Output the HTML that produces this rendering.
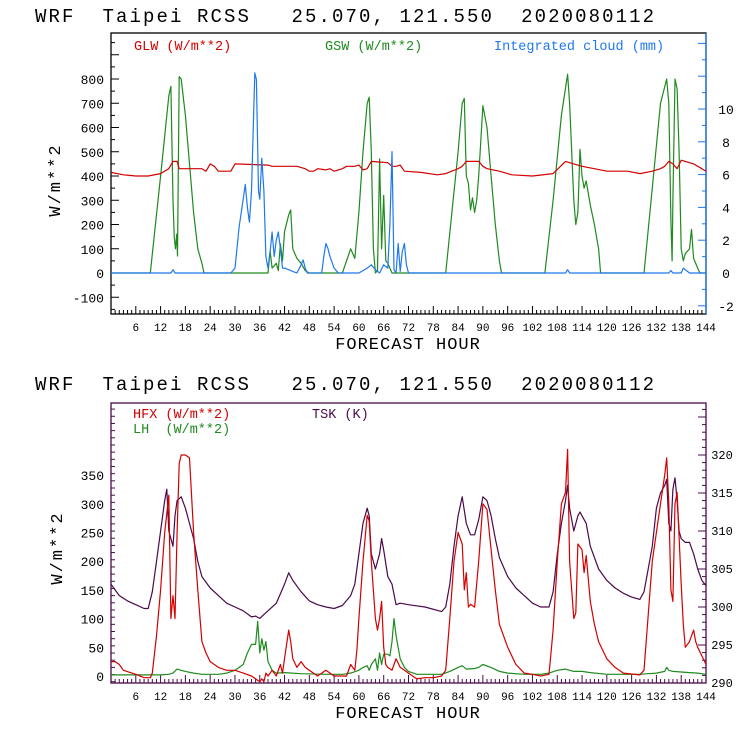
<!DOCTYPE html>
<html><head><meta charset="utf-8"><style>
html,body{margin:0;padding:0;background:#fff;}
svg{display:block;font-family:"Liberation Mono",monospace;}
</style></head><body>
<svg id="c" width="740" height="740" viewBox="0 0 740 740"></svg>
<script>
// ---- Top chart data ----
const hourTicks=[6,12,18,24,30,36,42,48,54,60,66,72,78,84,90,96,102,108,114,120,126,132,138,144];
const gswHours=[0,9.5,12,14,14.5,15,15.3,15.6,15.9,16.1,16.5,17,18,19,20,21,22,22.5,38,38.5,39,40,40.5,41,41.5,42,43,43.5,44,45,46,47,48,56,57,58,59,60,61,62,62.5,63,63.5,64,64.5,65,65.5,66,66.5,67,68,81,84,85,85.5,86,86.5,87,87.5,88,88.5,89,90,91,92,93,94,94.5,105,107,109,110.5,111,112,112.5,113,113.5,114,114.5,115,116,117,118,118.5,129,131,133,134.5,135,135.5,135.8,136,136.5,137,137.5,138,138.5,139,140,140.5,141,142,142.5,144];
const gswValues=[0,0,400,730,770,300,150,100,160,70,810,800,650,450,250,100,40,0,0,90,20,40,10,120,50,170,240,260,100,60,40,10,0,0,50,100,60,250,500,700,725,500,100,0,10,470,100,320,50,40,0,0,500,700,720,400,370,260,310,250,300,400,690,600,400,200,50,0,0,300,650,820,700,300,200,250,510,400,350,380,280,200,100,0,0,350,700,800,700,220,50,300,800,760,500,100,50,80,100,180,60,20,0,0];
const cloudHours=[0,14.5,15,15.5,29,30,31,32,32.5,33,33.5,34,34.8,35.2,35.7,36,36.5,37,37.5,38,38.5,39,39.5,40,40.5,41,41.5,42,43,44,45,46,46.5,47,47.5,51,51.5,52,52.5,53,54,55,60,62,63,64,65,66,67,67.5,68,68.5,69,69.5,70,70.5,71,71.5,72,110,110.5,111,135,135.5,136,138,138.5,139,140,144];
const cloudValues=[0,0,0.2,0,0,0.3,2.8,4.5,5.4,4.0,3.1,5.0,12.2,11.8,5,4.5,7.0,5,1.0,0.3,1.3,2.5,1.0,2.0,2.5,1.5,0.3,0.3,0.2,0.1,0,0.5,0.8,0.3,0,0,1.0,1.8,1.5,1.0,0.3,0,0,0.3,0.5,0.2,0,0.5,0.3,3,7.4,0.2,0,1.8,0.1,1.3,1.8,0.5,0,0,0.2,0,0,0.15,0,0,0.3,0.2,0,0];
const glwHours=[0,3,6,9,12,14,15,16,16.5,22,23,24,25,26,29,30,38,39,43,45,47,48,49,50,52,53,54,56,57,59,60,61,62,63,67,68,69,70,71,75,79,81,84,85,86,89,90,91,94,97,102,107,110,112,114,117,120,125,128,131,133,134,135,136,137,138,141,143,144];
const glwValues=[415,405,400,400,410,430,460,460,430,430,420,450,440,420,420,450,445,440,440,440,430,420,420,430,425,430,420,430,440,440,445,425,430,460,455,440,440,445,420,415,405,410,430,440,460,460,440,430,420,405,400,410,460,450,440,430,420,420,410,420,430,440,460,450,430,465,450,430,420];
// ---- Bottom chart data ----
const hfxHours=[0,1,2,3,6,8,9.5,10,11,12,13,14,14.5,15,15.5,16,16.5,17,18,19,20,21,22,23,24,26,28,30,32,34,35,36,36.5,37,37.5,38,39,40,41,41.5,42,43,43.5,44,45,46,47,48,50,52,53,54,57,58,59,59.5,60,61,62,62.5,63,64,64.5,65,65.5,66,66.5,67,68,68.5,69,70,72,74,76,78,80,81,82,83,84,85,85.5,86,86.5,87,88,89,90,91,92,93,94,96,98,100,102,104,106,107,108,109,110,110.5,111,112,112.5,113,114,114.5,115,116,117,118,120,122,124,128,129,131,133,134,134.5,135,135.5,136,136.5,137,138,138.5,139,140,141,141.5,142,143,144];
const hfxValues=[25,25,20,10,3,-3,-3,5,70,150,250,315,100,140,100,250,370,385,385,380,250,150,60,40,25,15,10,10,5,0,-5,-10,-5,-10,5,0,10,0,20,5,30,80,60,30,15,25,15,10,0,10,5,0,0,20,10,45,100,200,280,270,200,100,80,100,130,50,20,15,10,20,30,15,5,-5,-3,-3,0,10,100,200,250,230,150,180,120,125,120,200,300,290,220,150,90,50,20,5,3,0,3,80,200,300,320,395,200,100,110,230,220,180,210,130,90,60,30,15,5,2,10,200,300,350,380,300,150,130,300,320,160,90,50,60,80,60,50,35,20];
const lhHours=[0,12,14,15,16,17,18,20,22,26,28,30,32,33,34,35,35.5,36,36.5,37,37.5,38,39,40,42,46,52,56,58,60,61,62,62.5,63,64,64.5,65,65.5,66,67,67.5,68,68.5,69,70,71,72,74,80,82,84,85,86,88,89,90,92,94,96,100,104,106,108,110,111,112,114,116,120,128,130,132,134,134.5,135,136,138,140,142,144];
const lhValues=[2,2,3,5,12,10,8,5,3,3,5,10,20,40,55,55,95,40,65,45,60,25,10,5,6,4,3,3,5,10,15,18,10,20,30,10,40,20,38,38,35,60,100,70,30,15,8,3,3,8,15,18,12,13,15,20,15,8,5,3,3,5,10,12,10,8,8,6,3,3,4,5,8,15,10,8,7,6,5,3];
const tskHours=[0,2,4,6,8,9,10,11,12,13,13.5,14,14.5,15,15.5,16,17,18,19,20,21,22,24,26,28,30,32,34,35,36,37,38,40,42,43,44,46,48,50,52,54,56,58,59,60,61,62,62.5,63,64,65,65.5,66,67,68,69,70,72,76,80,81,82,83,84,85,86,87,88,89,90,91,92,93,94,96,98,100,102,104,106,107,108,109,110,110.5,111,112,113,113.5,114,115,116,118,120,122,124,126,128,129,130,131,132,133,134,134.5,135,135.5,136,136.5,137,137.5,138,139,140,141,142,143,144];
const tskValues=[303,301.5,300.8,300.3,299.8,299.8,302,306,310,314,315.5,310,309,308,312,314,314.5,313,311,309,306,304,302.5,301.5,300.5,300,299.5,298.7,298.8,298.5,299,299.5,300.5,303,304.5,303.5,302,300.8,300.3,300,299.8,300.2,301.5,303,307,311,313,312,307,305,307,309,307.5,304,303,300.3,300.5,300.3,300,299.4,300,303,308,312,314.5,311,309.5,309.5,311.5,314.5,314,312,309,306.5,304,302.5,301.5,300.5,300,300,302,307,311,314,316,313,310,312,312.5,312,311,308,305,303.5,302.5,301.8,301.3,301,302,305,308,313,315,316,316.8,311,310,315.5,317,314,310,309,308.5,308.5,307,305,303.5,302.8];

const svg=document.getElementById('c');
const NS='http://www.w3.org/2000/svg';
function mk(tag,attrs,parent,name,text){
  const e=document.createElementNS(NS,tag);
  for(const k in attrs)e.setAttribute(k,attrs[k]);
  
  
  if(text!==undefined)e.textContent=text;
  (parent||svg).appendChild(e);return e;
}
const X0=111,X1=706;
const xs=h=>X0+(X1-X0)*h/144;
const RED='#d40000',GRN='#1f8a1f',BLU='#1e78f0',PUR='#4a0a4a';

function frame(top,bot,col,g){
  mk('rect',{x:X0,y:top,width:X1-X0,height:bot-top,fill:'none',stroke:col,'stroke-width':1.3},g,'plot-frame');
  for(let h=1;h<144;h++){
    const x=xs(h),len=h%6===0?8:4;
    mk('line',{x1:x,y1:bot,x2:x,y2:bot-len,stroke:col,'stroke-width':1},g,'x-tick');
  }
  hourTicks.forEach(h=>mk('text',{x:xs(h),y:bot+17,'font-size':11,'text-anchor':'middle',fill:'#000'},g,'x-tick-label',String(h)));
  mk('text',{x:408,y:bot+35,'font-size':17,'text-anchor':'middle',fill:'#000','letter-spacing':'1'},g,'x-axis-title','FORECAST HOUR');
}
function title(y){
  const g=mk('g',{},svg,'chart-title');
  mk('text',{x:35,y:y,'font-size':19,fill:'#000','letter-spacing':'2.1',style:'white-space:pre'},g,'title-text','WRF  Taipei RCSS   25.070, 121.550  2020080112');
}
function line(g,hours,vals,ys,col,name){
  let d='';
  hours.forEach((h,i)=>{d+=(i?'L':'M')+xs(h).toFixed(1)+','+ys(vals[i]).toFixed(1);});
  mk('path',{d:d,fill:'none',stroke:col,'stroke-width':1.2,'stroke-linejoin':'round'},g,name);
}
function legend(g,x,y,col,name,txt){
  mk('text',{x:x,y:y,'font-size':13.5,fill:col,style:'white-space:pre'},g,name,txt);
}

// ===== Top chart =====
title(22);
{
  const g=mk('g',{},svg,'top-chart');
  const T=33,B=314;
  const yL=v=>273-v*0.2425;
  const yR=v=>273-v*16.4;
  frame(T,B,'#000',g);
  mk('line',{x1:X1,y1:T,x2:X1,y2:B,stroke:BLU,'stroke-width':1.3},g,'right-axis');
  for(let v=-150;v<=990;v+=50){
    const y=yL(v);if(y<T||y>B)continue;
    mk('line',{x1:X0,y1:y,x2:X0+(v%100===0?8:4),y2:y,stroke:'#000'},g,'left-tick');
  }
  for(let v=-100;v<=800;v+=100)mk('text',{x:104,y:yL(v)+5,'font-size':13,'text-anchor':'end'},g,'left-tick-label',String(v));
  for(let v=-2;v<=14;v++){
    const y=yR(v);if(y<T||y>B)continue;
    mk('line',{x1:X1,y1:y,x2:X1-(v%2===0?8:4),y2:y,stroke:BLU},g,'right-tick');
  }
  for(let v=-2;v<=10;v+=2)mk('text',{x:726,y:yR(v)+5,'font-size':13,'text-anchor':'middle'},g,'right-tick-label',String(v));
  mk('text',{x:60,y:180,'font-size':17,'text-anchor':'middle',transform:'rotate(-90 60 180)','letter-spacing':'2'},g,'y-axis-title','W/m**2');
  line(g,gswHours,gswValues,yL,GRN,'gsw-line');
  line(g,glwHours,glwValues,yL,RED,'glw-line');
  line(g,cloudHours,cloudValues,yR,BLU,'cloud-line');
  legend(g,134,50,RED,'legend-glw','GLW (W/m**2)');
  legend(g,325,50,GRN,'legend-gsw','GSW (W/m**2)');
  legend(g,494,50,BLU,'legend-cloud','Integrated cloud (mm)');
}
// ===== Bottom chart =====
title(390);
{
  const g=mk('g',{},svg,'bottom-chart');
  const T=403,B=683;
  const yL=v=>676-v*0.574;
  const yR=v=>683-(v-290)*7.6;
  frame(T,B,PUR,g);
  for(let v=-10;v<=470;v+=12.5){
    const y=yL(v);if(y<T||y>B)continue;
    mk('line',{x1:X0,y1:y,x2:X0+(v%50===0?8:4),y2:y,stroke:PUR},g,'left-tick');
  }
  for(let v=0;v<=350;v+=50)mk('text',{x:104,y:yL(v)+5,'font-size':13,'text-anchor':'end'},g,'left-tick-label',String(v));
  for(let v=290;v<=326;v++){
    const y=yR(v);if(y<T||y>B)continue;
    mk('line',{x1:X1,y1:y,x2:X1-(v%5===0?8:4),y2:y,stroke:PUR},g,'right-tick');
  }
  for(let v=290;v<=320;v+=5)mk('text',{x:722,y:yR(v)+4,'font-size':12,'text-anchor':'middle'},g,'right-tick-label',String(v));
  mk('text',{x:62,y:548,'font-size':17,'text-anchor':'middle',transform:'rotate(-90 62 548)','letter-spacing':'2'},g,'y-axis-title','W/m**2');
  line(g,tskHours,tskValues,yR,PUR,'tsk-line');
  line(g,lhHours,lhValues,yL,GRN,'lh-line');
  line(g,hfxHours,hfxValues,yL,RED,'hfx-line');
  legend(g,133,418,RED,'legend-hfx','HFX (W/m**2)');
  legend(g,133,433,GRN,'legend-lh','LH  (W/m**2)');
  legend(g,312,418,PUR,'legend-tsk','TSK (K)');
}
</script>
</body></html>
